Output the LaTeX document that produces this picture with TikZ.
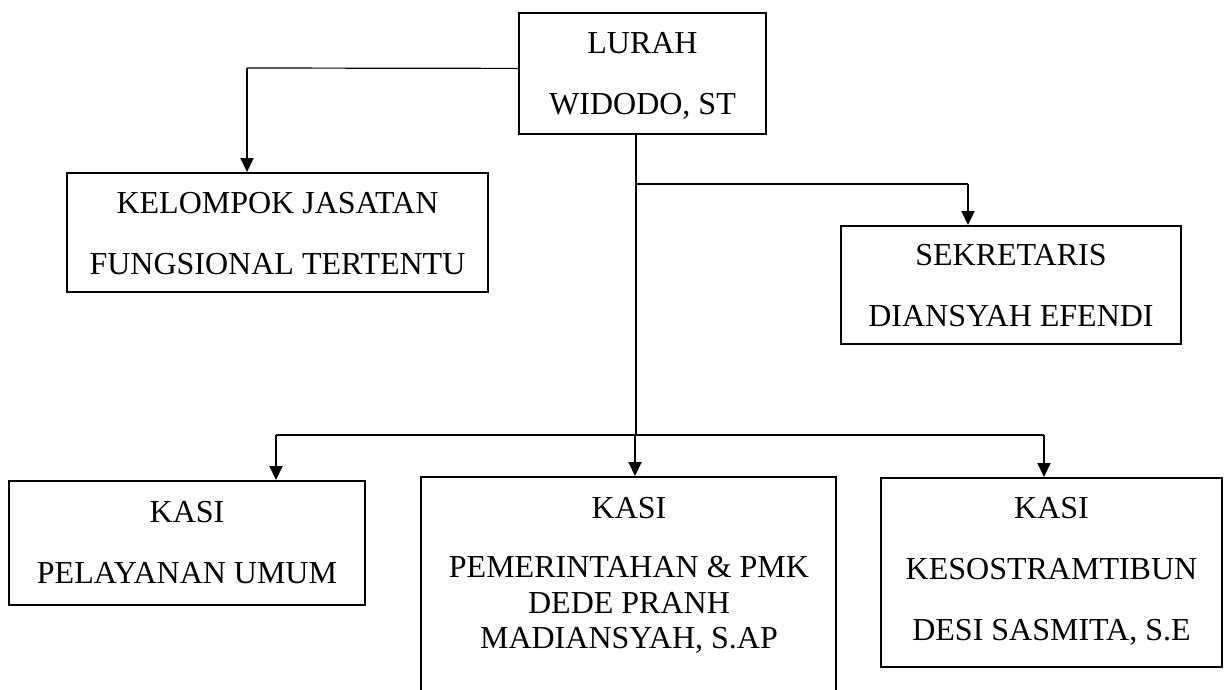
\documentclass[tikz,border=0pt]{standalone}
\usepackage{fontspec}
\setmainfont{Liberation Serif}
\usetikzlibrary{arrows.meta,calc}
\begin{document}
\begin{tikzpicture}[x=1pt,y=-1pt,
  box/.style={draw, line width=2pt, inner sep=0pt},
  txt/.style={inner sep=0pt, anchor=north, align=center, font=\fontsize{32}{61}\selectfont},
  thin/.style={line width=1.2pt},
  arr/.style={line width=2pt, -{Triangle[length=14pt,width=13pt]}}]
\fill[white] (0,0) rectangle (1227,689);
\useasboundingbox (0,0) rectangle (1227,689);
\clip (0,0) rectangle (1227,689);
% boxes
\node[box, minimum width=247pt, minimum height=121pt] (lurah) at (642.5,73.4) {};
\node[box, minimum width=421pt, minimum height=119pt] (kel) at (277.5,232.5) {};
\node[box, minimum width=340pt, minimum height=118pt] (sek) at (1011,285) {};
\node[box, minimum width=356pt, minimum height=124pt] (kp) at (187,543) {};
\node[box, minimum width=415pt, minimum height=243pt] (kpem) at (628.5,598.5) {};
\node[box, minimum width=341pt, minimum height=189pt] (kk) at (1051.5,572.5) {};
% texts
\node[txt] (tlurah) at (642.5,32) {LURAH\\WIDODO, ST};
\node[txt] (tkel) at (277.5,192) {KELOMPOK JASATAN\\FUNGSIONAL TERTENTU};
\node[txt] (tsek) at (1011,244) {SEKRETARIS\\DIANSYAH EFENDI};
\node[txt] (tkp) at (187,501) {KASI\\PELAYANAN UMUM};
\node[txt, font=\fontsize{32}{35}\selectfont] (tkpem) at (629,497) {KASI\\[24pt]PEMERINTAHAN \& PMK\\[1pt]DEDE PRANH\\MADIANSYAH, S.AP};
\node[txt] (tkk) at (1051.5,497) {KASI\\KESOSTRAMTIBUN\\DESI SASMITA, S.E};
% junction coordinates
\coordinate (l0) at ([yshift=5pt]lurah.west);
\coordinate (k1) at (247,68);
\coordinate (j0) at ([xshift=-6.5pt]lurah.south);
\coordinate (j1) at (636,184);
\coordinate (s1) at (968,184);
\coordinate (j2) at (635,435);
\coordinate (b1) at (276,435);
\coordinate (b3) at (1044,435);
% connectors
\draw[thin] (l0) -- (k1);
\draw[arr] (k1) -- (k1 |- kel.north);
\draw[thin] (j0) -- (j0 |- j2);
\draw[thin] (j1) -- (s1);
\draw[arr] (s1) -- (s1 |- sek.north);
\draw[thin] (b1) -- (b3);
\draw[arr] (b1) -- (b1 |- kp.north);
\draw[arr] (j2) -- (j2 |- kpem.north);
\draw[arr] (b3) -- (b3 |- kk.north);
\end{tikzpicture}
\end{document}
